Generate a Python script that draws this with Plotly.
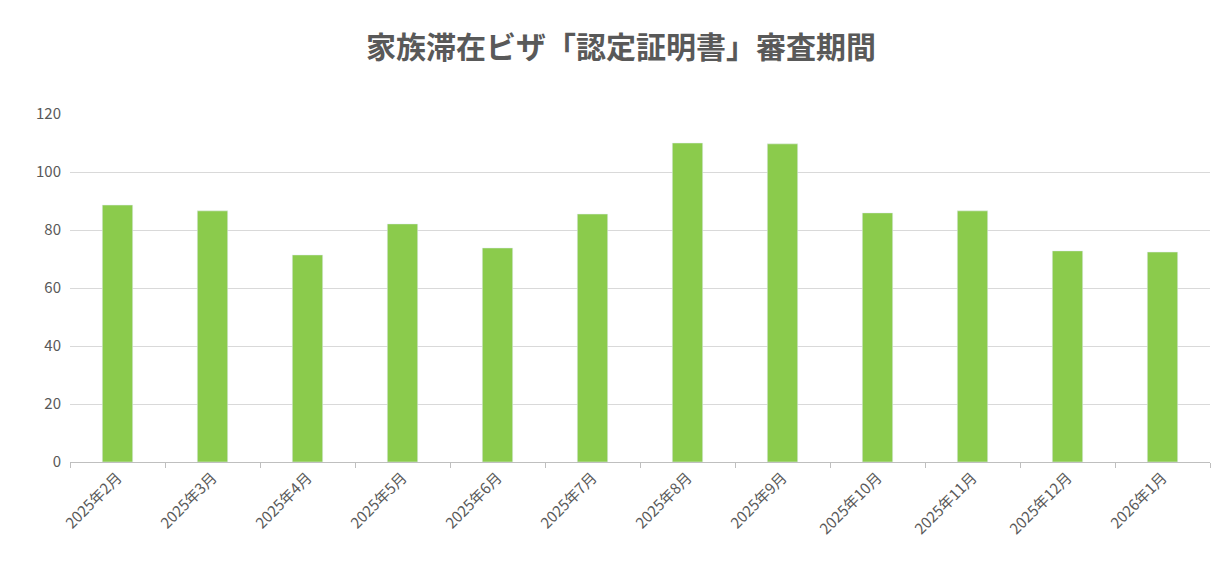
import plotly.graph_objects as go

months = ["2025年2月","2025年3月","2025年4月","2025年5月","2025年6月","2025年7月",
          "2025年8月","2025年9月","2025年10月","2025年11月","2025年12月","2026年1月"]
days = [88.6, 86.6, 71.4, 82.1, 73.8, 85.5, 110.0, 109.7, 85.9, 86.6, 72.8, 72.4]

fig = go.Figure(go.Bar(x=months, y=days, marker_color="#8BCB4C", width=0.32))
font = "Noto Sans CJK JP"
fig.update_layout(
    width=1226, height=587, plot_bgcolor="white", paper_bgcolor="white",
    margin=dict(l=62, r=24, t=106, b=133),
    title=dict(text="<b>家族滞在ビザ「認定証明書」審査期間</b>", x=0.5, y=0.95, xanchor="center",
               font=dict(family=font, size=30, color="#595959")),
    font=dict(family=font, color="#595959", size=14),
    showlegend=False,
)
fig.update_yaxes(range=[0, 120], dtick=20, gridcolor="#D9D9D9", zeroline=False,
                 tickfont=dict(size=15), ticks="", ticklabelstandoff=8)
fig.update_xaxes(tickangle=-45, showline=True, linecolor="#BFBFBF", ticks="outside",
                 tickcolor="#BFBFBF", ticklen=5, tickson="boundaries", tickfont=dict(size=15))
fig.write_html("out.html")
